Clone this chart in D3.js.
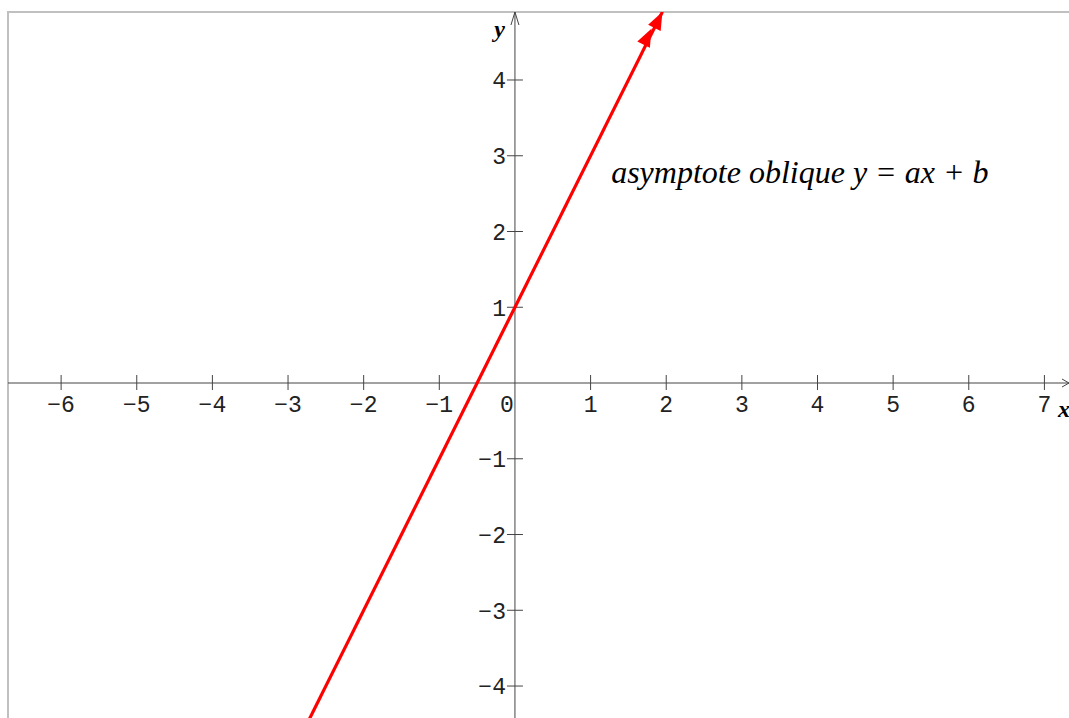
<!DOCTYPE html>
<html><head><meta charset="utf-8">
<script src="https://cdn.jsdelivr.net/npm/d3@7"></script>
<style>html,body{margin:0;padding:0;background:#fff;overflow:hidden}</style>
</head><body>
<svg id="c" width="1069" height="718"></svg>
<script>
const xTicks = [-6,-5,-4,-3,-2,-1,1,2,3,4,5,6,7];
const yTicks = [-4,-3,-2,-1,1,2,3,4];
const xDomain = [-6.808, 7.325];
const yDomain = [-4.422, 5.056];
const asymptote = [[-2.75,-4.5],[1.95,4.9]];
const arrowTips = [[1.807,4.68],[1.95,4.9]];
const annotation = "asymptote oblique y = ax + b";
const annotationPos = [1.272, 2.634];

const W = 1069, H = 718;
const svg = d3.select("#c");
const x = d3.scaleLinear().domain(xDomain).range([0, W]);
const y = d3.scaleLinear().domain(yDomain).range([H, 0]);
const axisCol = "#444";
const mono = "'Liberation Mono', monospace";

svg.append("defs").append("clipPath").attr("id","clip")
  .append("rect").attr("x",8).attr("y",12).attr("width",W).attr("height",H);

// frame
svg.append("path").attr("d",`M8,${H}V12H${W}`).attr("fill","none")
  .attr("stroke","#c0c0c0").attr("stroke-width",2);

const g = svg.append("g");
const x0 = x(0), y0 = y(0);
// x axis
g.append("line").attr("x1",8).attr("x2",W).attr("y1",y0).attr("y2",y0)
  .attr("stroke",axisCol).attr("stroke-width",1);
g.append("path").attr("d",`M${W-7},${y0-4}L${W},${y0}L${W-7},${y0+4}`).attr("fill","none").attr("stroke",axisCol);
// y axis
g.append("line").attr("x1",x0).attr("x2",x0).attr("y1",12).attr("y2",H)
  .attr("stroke",axisCol).attr("stroke-width",1);
g.append("path").attr("d",`M${x0-4},${25}L${x0},${12}L${x0+4},${25}`).attr("fill","none").attr("stroke",axisCol);

const fmt = v => v < 0 ? "\u2212" + Math.abs(v) : String(v);
// x ticks
g.selectAll(".xt").data(xTicks).join("line")
  .attr("x1",d=>x(d)).attr("x2",d=>x(d)).attr("y1",y0-8).attr("y2",y0+7)
  .attr("stroke",axisCol);
g.selectAll(".xl").data(xTicks.concat([0])).join("text")
  .attr("x",d=> d===0 ? x0-8 : x(d)).attr("y",y0+29)
  .attr("text-anchor","middle").attr("font-family",mono).attr("font-size",23)
  .attr("fill","#222").text(fmt);
// y ticks
g.selectAll(".yt").data(yTicks).join("line")
  .attr("x1",x0-8).attr("x2",x0+8).attr("y1",d=>y(d)).attr("y2",d=>y(d))
  .attr("stroke",axisCol);
g.selectAll(".yl").data(yTicks).join("text")
  .attr("x",x0-9).attr("y",d=>y(d)).attr("dy","0.36em")
  .attr("text-anchor","end").attr("font-family",mono).attr("font-size",23)
  .attr("fill","#222").text(fmt);

// axis names
g.append("text").attr("x",x0-10).attr("y",37).attr("text-anchor","end")
  .attr("font-family","'Liberation Serif', serif").attr("font-style","italic").attr("font-weight","bold")
  .attr("font-size",24).text("y");
g.append("text").attr("x",1058).attr("y",417)
  .attr("font-family","'Liberation Serif', serif").attr("font-style","italic").attr("font-weight","bold")
  .attr("font-size",24).text("x");

// asymptote line
const cg = svg.append("g").attr("clip-path","url(#clip)");
cg.append("path").datum(asymptote)
  .attr("d", d3.line().x(d=>x(d[0])).y(d=>y(d[1])))
  .attr("stroke","#ff0000").attr("stroke-width",3.2).attr("fill","none");
// arrowheads
const ang = Math.atan2(y(asymptote[1][1])-y(asymptote[0][1]), x(asymptote[1][0])-x(asymptote[0][0]));
cg.selectAll(".ah").data(arrowTips).join("path")
  .attr("transform", d=>`translate(${x(d[0])},${y(d[1])}) rotate(${ang*180/Math.PI})`)
  .attr("d","M0,0L-18,-7L-18,7Z").attr("fill","#ff0000");

// annotation
svg.append("text").attr("x",x(annotationPos[0])).attr("y",y(annotationPos[1]))
  .attr("font-family","'Liberation Serif', serif").attr("font-style","italic")
  .attr("font-size",32).attr("fill","#000").text(annotation);
</script>
</body></html>
